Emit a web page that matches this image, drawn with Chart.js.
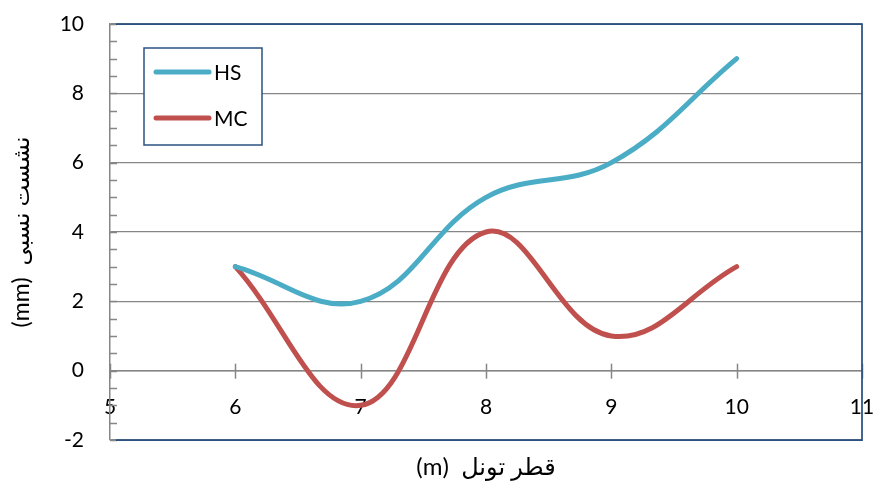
<!DOCTYPE html>
<html>
<head>
<meta charset="utf-8">
<script src="https://cdn.jsdelivr.net/npm/chart.js@4/dist/chart.umd.min.js"></script>
<style>
  html, body { margin: 0; padding: 0; background: #ffffff; }
  canvas { display: block; }
</style>
</head>
<body>
<canvas id="chart" width="878" height="486"></canvas>
<script>
// Tunnel diameter (m) and relative settlement (mm) for the two methods
const tunnelDiameters = [6, 7, 8, 9, 10];
const hsSettlement = [3, 2, 5, 6, 9];
const mcSettlement = [3, -1, 4, 1, 3];
const seriesNames = ['HS', 'MC'];
const seriesColors = ['#4BACC6', '#C0504D'];
const xRange = [5, 11];
const yRange = [-2, 10];
const xAxisTitle = '\u202Bقطر تونل  (m)\u202C';
const yAxisTitle = '\u202Bنشست نسبی  (mm)\u202C';

const FONT = 'Lato, "DejaVu Sans", sans-serif';
const GRID_GREY = '#868686';
const FRAME_BLUE = '#2B5182';

const toPoints = (ys) => tunnelDiameters.map((x, i) => ({ x, y: ys[i] }));

// keep the plot area exactly where the layout padding puts it
function noOverhang(s) {
  s.paddingLeft = 0; s.paddingRight = 0; s.paddingTop = 0; s.paddingBottom = 0;
}

// Frame, crossing x ticks, minor y ticks and an in-plot legend
const chartDecor = {
  id: 'chartDecor',
  beforeDatasetsDraw(chart) {
    const { ctx, chartArea: a, scales } = chart;
    const xs = scales.x, ys = scales.y;
    ctx.save();
    ctx.strokeStyle = GRID_GREY;
    ctx.lineWidth = 1.5;
    // minor ticks on the value axis, pointing into the plot
    for (let v = yRange[0]; v <= yRange[1] + 1e-9; v += 0.5) {
      const py = Math.round(ys.getPixelForValue(v)) + 0.5;
      ctx.beginPath();
      ctx.moveTo(a.left, py);
      ctx.lineTo(a.left + 7, py);
      ctx.stroke();
    }
    // tick marks crossing the horizontal axis at y = 0
    const y0 = ys.getPixelForValue(0);
    xs.ticks.forEach(t => {
      const px = Math.round(xs.getPixelForValue(t.value)) + 0.5;
      ctx.beginPath();
      ctx.moveTo(px, y0 - 7);
      ctx.lineTo(px, y0 + 8);
      ctx.stroke();
    });
    // plot frame (top, right, bottom)
    ctx.strokeStyle = FRAME_BLUE;
    ctx.lineWidth = 1.75;
    ctx.beginPath();
    ctx.moveTo(a.left + 6, a.top);
    ctx.lineTo(a.right, a.top);
    ctx.lineTo(a.right, a.bottom);
    ctx.lineTo(a.left + 6, a.bottom);
    ctx.stroke();
    ctx.restore();
  },
  afterDatasetsDraw(chart) {
    const { ctx, chartArea: a } = chart;
    const bx = a.left + 34, by = a.top + 24, bw = 118, bh = 97;
    ctx.save();
    ctx.fillStyle = '#ffffff';
    ctx.fillRect(bx, by, bw, bh);
    ctx.strokeStyle = FRAME_BLUE;
    ctx.lineWidth = 1.5;
    ctx.strokeRect(bx, by, bw, bh);
    chart.data.datasets.forEach((ds, i) => {
      const ly = by + 24 + i * 46;
      ctx.strokeStyle = ds.borderColor;
      ctx.lineWidth = 5;
      ctx.lineCap = 'round';
      ctx.beginPath();
      ctx.moveTo(bx + 12, ly);
      ctx.lineTo(bx + 65, ly);
      ctx.stroke();
      ctx.fillStyle = '#000000';
      ctx.font = '21px ' + FONT;
      ctx.textAlign = 'left';
      ctx.textBaseline = 'middle';
      ctx.fillText(ds.label, bx + 70, ly + 1);
    });
    ctx.restore();
  }
};

new Chart(document.getElementById('chart'), {
  type: 'line',
  data: {
    datasets: [
      { label: seriesNames[0], data: toPoints(hsSettlement), borderColor: seriesColors[0], backgroundColor: seriesColors[0] },
      { label: seriesNames[1], data: toPoints(mcSettlement), borderColor: seriesColors[1], backgroundColor: seriesColors[1] }
    ]
  },
  options: {
    responsive: false,
    animation: false,
    devicePixelRatio: 1,
    layout: { padding: { left: 0, top: 24, right: 16, bottom: 0 } },
    plugins: { legend: { display: false }, tooltip: { enabled: false } },
    elements: {
      point: { radius: 0, hoverRadius: 0 },
      line: { borderWidth: 5, tension: 0.4, borderCapStyle: 'round', borderJoinStyle: 'round', fill: false }
    },
    scales: {
      x: {
        type: 'linear',
        position: { y: 0 },
        min: xRange[0], max: xRange[1],
        ticks: { stepSize: 1, autoSkip: false, maxRotation: 0, padding: 24, color: '#000000', font: { family: FONT, size: 21 } },
        grid: { display: false, drawTicks: false },
        border: { display: true, color: GRID_GREY, width: 1.5 },
        afterFit(s) { s.height = 0; noOverhang(s); }
      },
      xTitle: {
        type: 'linear',
        position: 'bottom',
        min: xRange[0], max: xRange[1],
        ticks: { display: false },
        grid: { display: false, drawTicks: false },
        border: { display: false },
        title: { display: true, text: xAxisTitle, color: '#000000', font: { family: FONT, size: 24 }, padding: { top: 14, bottom: 4 } },
        afterFit(s) { s.height = 46; noOverhang(s); }
      },
      y: {
        type: 'linear',
        position: 'left',
        min: yRange[0], max: yRange[1],
        ticks: { stepSize: 2, padding: 26, color: '#000000', font: { family: FONT, size: 21 } },
        grid: { color: GRID_GREY, lineWidth: 1.2, drawTicks: false },
        border: { display: true, color: GRID_GREY, width: 1.5 },
        title: { display: true, text: yAxisTitle, color: '#000000', font: { family: FONT, size: 23 }, padding: { top: 8, bottom: 0 } },
        afterFit(s) { s.width = 110; noOverhang(s); }
      }
    }
  },
  plugins: [chartDecor]
});
</script>
</body>
</html>
